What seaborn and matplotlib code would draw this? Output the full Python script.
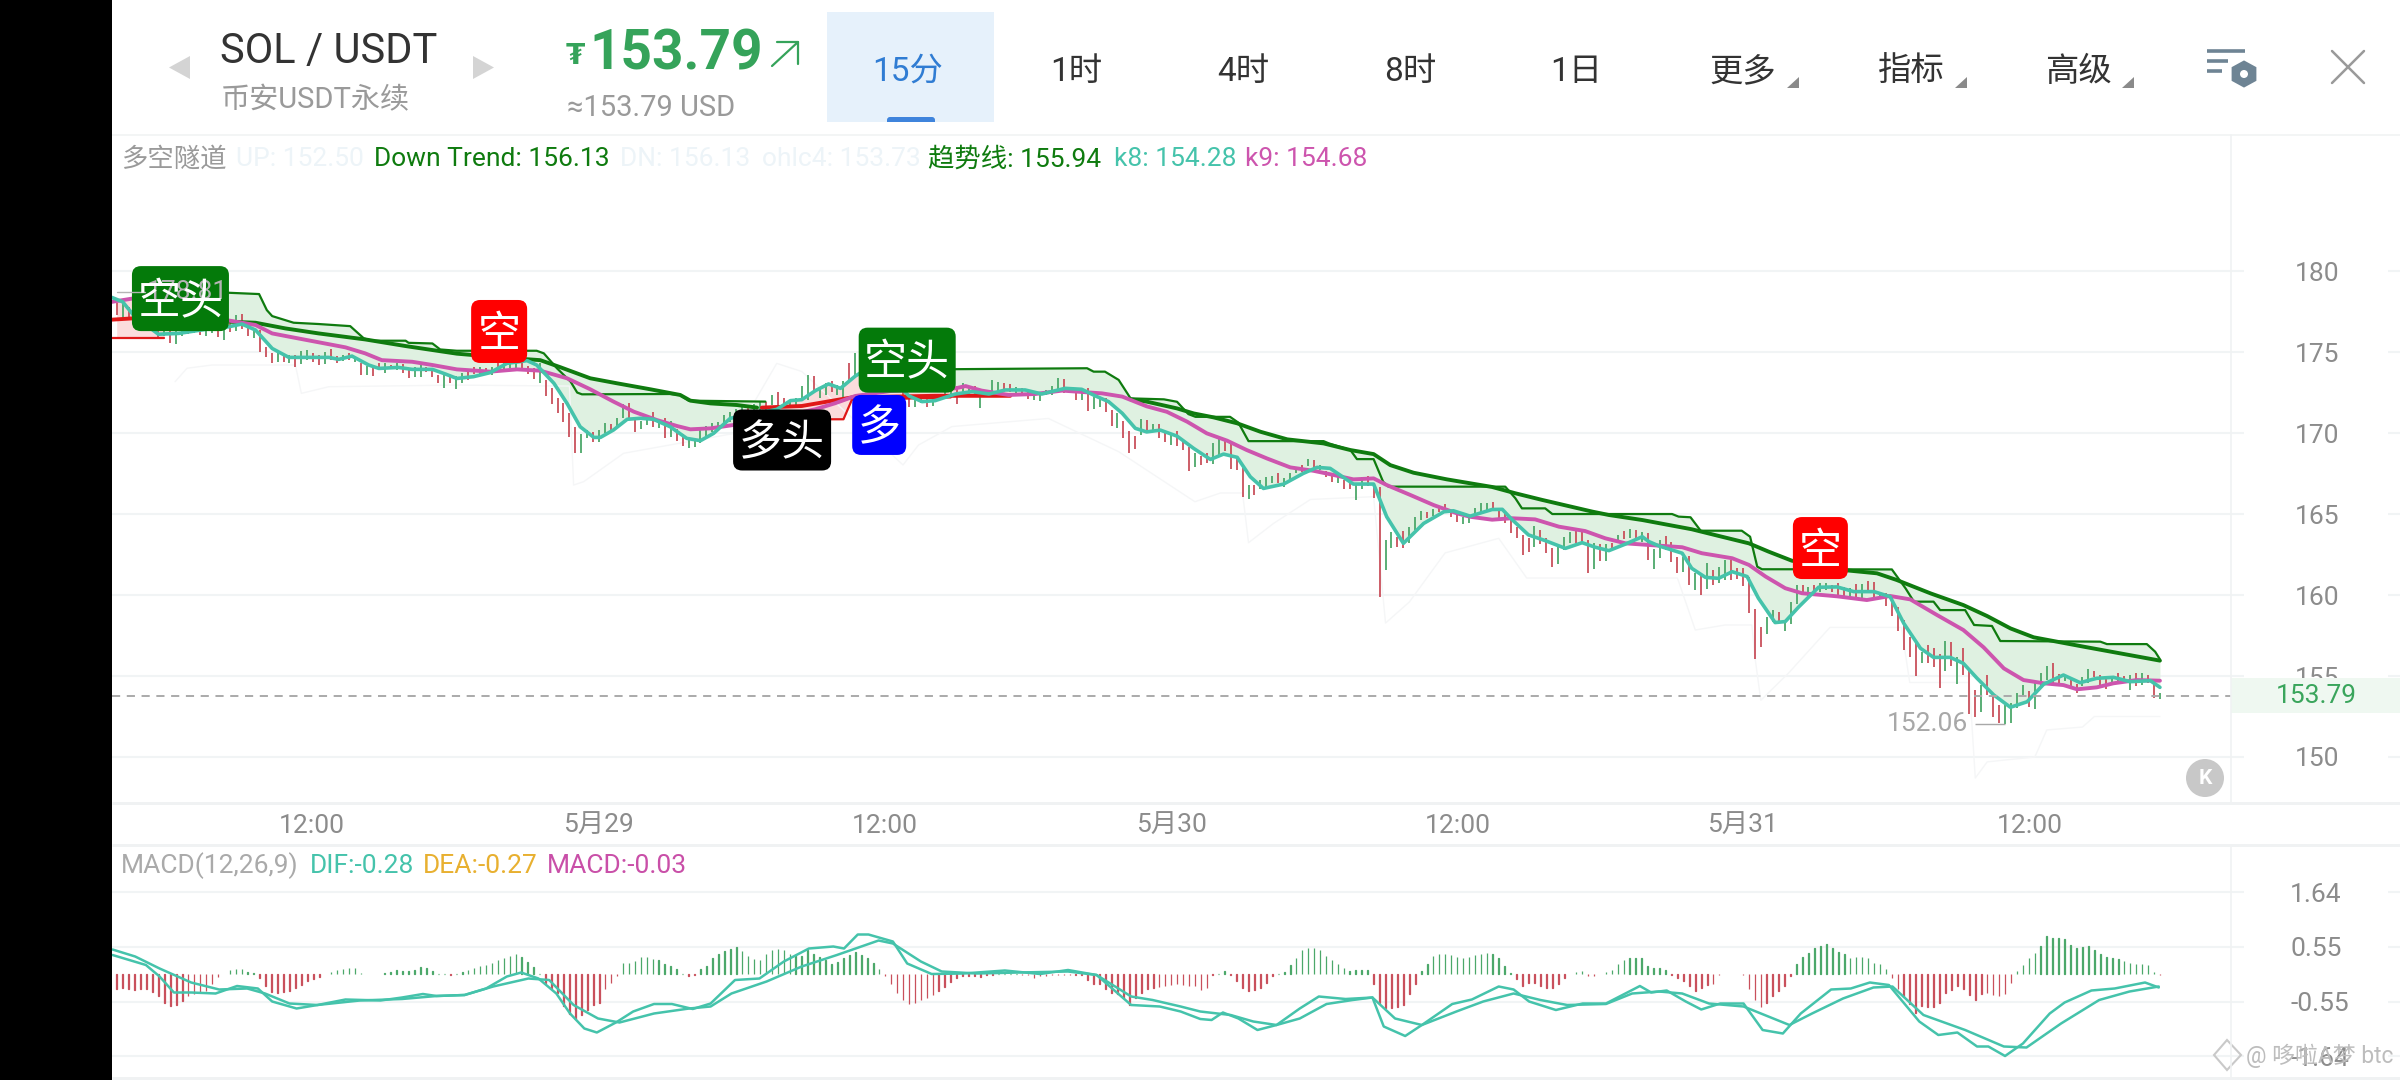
import numpy as np
import pandas as pd
import matplotlib
matplotlib.use("Agg")
import matplotlib.pyplot as plt
from matplotlib.patches import Rectangle, Polygon, Circle, FancyBboxPatch
import seaborn as sns

# candles, one per 15 minutes
highs = [
    178.00,178.00,177.8,177.7,177.6,177.3,177.1,176.8,176.6,176.6,
    176.5,176.5,176.4,176.4,176.6,176.6,176.7,176.8,176.9,176.97,
    177.28,177.34,176.52,176.46,176.36,175.33,174.92,174.92,174.81,174.81,
    174.81,175.08,175.12,174.96,174.81,175.02,175.18,174.75,174.81,174.96,
    174.67,174.34,174.13,174.09,174.30,174.30,174.20,174.30,174.26,173.99,
    174.09,174.20,174.09,173.89,173.58,173.58,173.52,173.5,173.69,173.8,
    174.10,174.10,174.0,174.10,174.3,174.4,174.5,174.5,174.5,174.14,
    174.0,174.34,173.27,172.76,172.14,171.83,171.22,170.39,169.94,170.19,
    170.08,170.19,170.64,170.56,170.91,171.79,171.87,171.01,170.76,171.05,
    171.32,170.80,170.91,170.76,170.23,169.94,169.61,169.57,170.23,170.43,
    170.64,170.70,171.11,171.32,171.5,171.6,171.7,171.8,171.9,171.9,
    172.35,172.55,172.14,172.04,172.14,172.9,173.59,173.52,172.86,173.11,
    173.23,172.97,173.23,174.35,174.96,175.2,175.3,175.0,174.7,174.4,
    174.0,173.6,173.2,172.35,172.35,172.14,172.21,172.14,172.41,172.8,
    172.9,172.9,173.1,172.76,172.9,172.41,172.66,173.28,173.17,173.11,
    173.03,172.86,172.76,172.66,172.56,172.56,172.66,172.91,173.38,173.36,
    172.86,172.62,172.62,172.80,172.25,172.14,172.14,171.42,171.22,170.74,
    170.13,169.84,170.85,170.80,170.53,170.53,170.02,169.88,170.14,169.46,
    169.15,168.78,168.58,168.74,169.36,169.73,169.61,169.32,168.58,167.82,
    166.79,166.79,167.10,167.26,167.36,167.51,167.20,167.55,167.82,168.02,
    168.41,168.33,168.02,167.67,167.51,167.41,167.10,166.93,166.93,167.30,
    167.36,166.89,166.69,163.39,163.91,163.6,163.97,164.18,164.83,165.18,
    165.14,165.29,165.45,165.62,165.14,165.04,164.83,164.83,165.35,165.66,
    165.66,165.77,165.25,165.05,164.63,164.22,163.71,163.50,164.26,164.02,
    163.50,162.88,163.09,163.60,163.87,164.02,163.91,163.40,163.19,163.15,
    163.15,163.23,163.71,163.97,164.06,164.02,163.91,163.85,162.82,163.40,
    163.65,163.30,162.33,162.37,162.41,161.34,161.18,161.96,161.55,161.75,
    162.16,162.16,161.65,161.65,161.14,159.12,158.01,158.67,159.08,158.97,
    158.36,159.59,160.62,160.62,160.48,160.62,160.77,160.72,160.62,160.76,
    160.51,160.41,160.68,160.68,160.88,160.82,160.21,160.10,159.79,159.28,
    158.46,157.43,157.02,156.5,156.91,156.71,156.36,157.16,157.12,156.19,
    156.71,155.37,154.14,154.44,155.06,153.83,153.21,153.21,153.31,153.97,
    154.42,154.09,154.65,155.16,155.64,155.78,155.12,155.06,154.75,154.51,
    154.92,155.41,155.33,155.06,154.79,154.92,155.16,155.02,155.06,155.16,
    155.16,155.06,154.65,153.93,
]
lows = [
    177.28,176.97,177.0,176.9,176.7,176.6,176.4,175.84,176.0,175.53,
    175.49,176.0,176.1,176.2,176.05,175.99,176.2,175.95,175.74,176.25,
    176.32,176.40,175.99,175.84,175.02,174.71,174.30,174.40,174.40,174.30,
    174.09,174.26,174.50,174.40,174.20,174.26,174.50,174.34,174.46,174.50,
    174.40,173.58,173.58,173.52,173.89,173.68,173.93,173.89,173.72,173.37,
    173.48,173.43,173.78,173.43,173.06,172.76,173.06,172.72,173.07,173.3,
    173.64,173.64,173.58,173.58,173.79,173.9,174.0,174.0,173.93,173.64,
    173.31,173.07,172.29,171.79,171.22,170.70,169.78,168.79,168.79,169.67,
    169.43,169.45,169.98,170.08,170.29,170.91,170.85,170.08,170.23,170.50,
    170.39,170.29,169.67,169.73,169.53,169.20,169.06,169.12,169.41,169.73,
    170.08,170.29,170.50,170.70,170.9,171.0,171.1,171.2,171.3,171.4,
    171.73,171.73,171.52,171.52,171.52,172.1,172.04,172.45,172.14,172.35,
    172.56,172.35,172.04,173.17,173.59,174.0,174.2,173.9,173.6,173.3,
    173.0,172.6,172.3,171.59,171.63,171.84,171.63,171.67,172.04,172.1,
    172.2,171.79,172.4,172.29,172.3,171.55,172.29,172.35,172.45,172.56,
    172.56,172.49,172.35,172.08,172.04,172.0,172.35,172.35,172.45,172.45,
    172.56,172.04,172.04,171.38,171.47,171.59,171.32,170.44,170.29,169.68,
    168.79,169.0,169.88,170.18,170.18,169.67,169.46,169.26,169.20,168.95,
    167.65,167.88,168.02,168.13,168.06,168.64,168.91,167.76,167.71,166.03,
    165.90,166.17,166.52,166.58,166.93,166.89,166.64,167.10,167.51,167.61,
    167.96,167.82,167.71,167.30,166.99,166.89,166.52,166.52,165.86,166.52,
    166.73,165.97,159.9,161.54,162.88,162.94,162.88,163.23,164.0,164.63,
    164.73,164.88,165.14,165.14,164.83,164.52,164.38,164.46,164.94,165.14,
    165.25,165.25,164.63,164.43,163.85,163.50,162.47,162.68,162.99,163.15,
    162.58,161.75,161.92,162.78,163.23,163.19,163.23,161.38,161.61,162.12,
    162.12,162.78,163.19,163.44,163.50,163.50,163.30,162.16,161.59,162.27,
    162.78,162.06,161.34,161.44,160.62,160.31,160.0,160.35,160.62,160.77,
    160.93,160.93,160.97,160.56,158.91,156.05,156.81,157.60,158.36,158.25,
    157.78,158.21,159.45,160.0,159.94,160.0,160.21,160.31,160.21,159.79,
    159.90,159.79,159.79,159.79,160.31,159.90,159.86,159.32,158.70,157.80,
    156.60,156.15,155.0,155.78,155.78,155.53,154.24,155.33,155.62,154.50,
    155.06,152.65,152.49,152.80,153.83,152.45,152.08,152.06,152.08,153.0,
    153.76,153.11,152.94,154.24,154.75,154.51,154.59,154.71,154.24,153.97,
    154.38,154.59,154.96,154.34,154.18,154.44,154.55,154.59,154.14,154.38,
    154.44,154.55,153.62,153.56,
]
candle_side = (
    "rgrgrrgrgr" "ggrgrggrgr" "grrgrrrgrg" "rggrrgrrgr" "grgrrgrgrr"
    "ggrrrgrggr" "rgrgrgggrr" "rgrrrrrrgg" "rggrggrrgg" "rgrgrrgggg"
    "ggggggrggr" "grrggggrgg" "rggrgggrrr" "rrrrggrgrg" "grggrgrggr"
    "rgrrgggggr" "grgrggrrgr" "rrgrgrrgrr" "rgrrggrrrr" "grgggrgggr"
    "grgrrgrrgg" "rrrggrrggg" "rgrrrrgggg" "grrrrrrrgr" "rrgggrrrgr"
    "grgrgrgrgg" "rrrgrgrgrg" "grrrrrrggr" "gggrgrggrr" "rgrgrrgrrr"
    "rrrgrrrgrg" "rrrgrrrggg" "grgggrrgrr" "ggrrrgrrgr" "grrg"
)

k8_t = [-0.8,1,3,7,10.4,14.9,18.8,21,23.3,26.1,28.9,32.8,35.6,37.3,39.5,42.3,44,47.3,49.6,53,55.2,57.1,
        59.9,62.7,65.5,68.9,70.5,73.4,75.6,77.8,80.1,81.2,83.4,85.7,87.9,90.1,92.9,95.7,98,100.2,103,110.8,113.1,115,
        117.3,119.5,121.5,124,127,130,133,135.2,137.4,140.8,143.6,146.4,149.2,152.5,155.3,159.2,162,164.3,166.5,168.8,171,172.9,
        175.2,178,180.8,183.6,185.8,188.1,190.3,192.5,195.9,199.2,201.5,203.7,207.6,211,213.2,216,219.4,222.8,224.4,227.2,230.9,
        232.6,234.2,237,239.8,243.2,246,248.2,250.5,253.3,256.1,257.2,258.9,262.8,264.4,266.7,268.9,271.2,273.7,275.6,278.4,280.1,282.4,285.7,288.8,
        291.6,295,297.7,300,302.8,305,307.8,310,312.3,315.1,317.9,320.7,323.5,326.8,329.6,332.4,335.2,338,341.4,343]
k8_v = [178.37,178.1,177.2,176.1,176.15,176.4,176.56,176.73,176.36,175.22,174.67,174.67,174.67,174.55,174.75,174.2,173.99,174.05,173.93,173.93,173.64,173.37,
        173.48,173.73,174.3,174.47,174.2,173.07,171.83,170.39,169.73,169.73,170.19,170.85,170.91,170.85,170.39,169.67,169.53,169.98,170.91,171.46,172.0,172.06,
        172.62,173.03,172.76,173.52,174.2,173.4,172.29,171.94,172.0,172.41,172.56,172.41,172.66,172.66,172.41,172.76,172.7,172.29,171.94,171.22,170.29,170.07,
        170.18,169.81,169.05,168.37,168.7,168.5,167.3,166.58,166.85,167.51,167.88,167.82,166.85,166.85,164.83,163.19,164.42,165.14,165.2,164.87,165.28,
        165.29,164.67,163.71,163.36,162.88,163.23,162.95,162.74,163.15,163.6,163.3,163.03,162.58,161.65,161.09,161.03,161.44,161.14,159.8,158.3,158.36,159.28,160.48,160.5,
        160.21,160.21,159.9,158.25,156.71,156.15,156.15,155.78,154.86,153.83,153.07,153.41,154.5,155.06,154.59,154.86,154.92,154.65,154.71,154.3]

k9_t = [-0.8,2.6,8,14,19.1,23.3,26.1,30.5,38.4,41.7,44.5,49.6,53,57.1,62.7,67.2,71.1,75.6,79.5,83.4,86.8,90.7,94.1,96.3,99.7,103.6,110,
        117.3,120.6,124,130,136,140.8,142.5,145.2,149.7,154.2,158.7,165.4,168.8,172.9,176.3,179.7,183,186.4,189.7,193.1,197,200.9,204.3,207.6,211,213.2,217.2,221.1,225,227.2,230.9,
        234.2,238.1,242.1,246.5,249.9,253.3,257.2,262.8,266.1,271.2,274,276.8,280.1,282.9,288.8,293.8,297.7,301.1,305.6,310,313.4,316.8,320.1,323.5,326.8,329.1,332.4,335.2,339.1,343]
k9_v = [178.1,178.3,177.8,177.2,176.93,176.67,176.15,175.84,175.29,174.92,174.50,174.40,174.2,173.93,173.79,173.93,173.85,173.38,172.70,171.94,171.32,170.80,170.43,170.23,170.29,170.50,170.9,
        171.47,171.84,172.29,172.6,172.7,172.76,172.9,172.62,172.35,172.41,172.62,172.45,172.25,171.65,171.31,170.70,169.98,169.53,168.95,168.43,167.88,167.67,167.41,167.14,167.2,166.79,166.17,165.55,165.04,164.83,164.65,
        164.74,164.67,164.22,163.95,163.5,163.19,163.09,162.95,162.58,162.27,161.86,161.14,160.42,160.11,159.92,159.69,159.94,159.73,158.76,157.84,156.77,155.47,154.75,154.55,154.44,154.18,154.30,154.55,154.75,154.71]

# super trend, green while falling, red while rising
trend_down1_t = [19.1,23.3,28.3,33.9,41.7,48.5,57.1,64.4,71.1,74.5,79.5,84,89.6,94.6,96.3,99.7,104.1,107.5]
trend_down1_v = [176.87,176.81,176.46,176.15,175.78,175.37,174.9,174.67,174.5,174.06,173.38,173.07,172.7,172.35,172.0,171.83,171.73,171.57]
trend_up1_t = [-0.8,8]
trend_up1_v = [177.0,177.2]
trend_up2_t = [108.3,115,123.4,137.4,150]
trend_up2_v = [171.57,171.67,172.2,172.3,172.3]
trend_down2_t = [170.2,172.9,178,180.8,184.1,188.1,192,196.5,202.6,207.1,211,213.8,217.7,223.3,230.9,234.8,239.3,247.7,250.5,256.1,264.4,268.9,274,277.3,281.2,284.5,288.8,295.5,298.8,304.5,310,314,317.9,321.8,325.7,330.2,336.3,343]
trend_down2_v = [172.08,171.94,171.52,171.21,170.97,170.6,170.08,169.61,169.36,168.95,168.7,168.02,167.55,167.14,166.67,166.28,165.87,165.15,164.94,164.63,164.06,163.65,163.19,162.68,162.12,161.9,161.58,161.34,160.93,160.1,159.38,158.70,157.94,157.39,157.12,156.81,156.4,155.95]

# tunnel edges
step1_t = [8,18.8,23.9,25.2,26.1,29.7,33.9,39.2,41.5,42.9,48.5,49,53,54.3,57.1,64,70.5,71.7,73.9,76.2,77.3,78.1,92.9,94.6,96,108.9]
step1_v = [178.66,178.66,178.58,177.59,177.22,176.81,176.73,176.6,175.84,175.7,175.7,175.57,175.53,175.16,175.08,175.08,175.08,174.92,174.0,173.17,172.5,172.39,172.41,172.35,172.0,171.94]
step2_t = [136,162.9,164,165.9,168.2,170.2,175.8,178,179.9,181.1,186.9,188.3,190,202.6,203.5,207.1,208.2,211,212.6,213.5,226.7,233.1,234.8,235.9,239.8,241,261.1,262.2,264.2,265.9,272.8,274.2,275.4,276.2,281.5,298,300.3,301.7,305,306.1,310.3,311.8,314.8,316.2,333,334.1,340.8,342.2,343]
step2_v = [173.93,174,173.79,173.79,173.28,172.14,172.08,171.93,171.17,171.0,171,170.64,169.5,169.5,169.36,168.95,168.39,168.39,166.99,166.69,166.69,166.69,165.97,165.35,165.35,165,165,164.84,164.8,163.97,163.97,163.6,161.75,161.59,161.59,161.58,160.41,159.59,159.59,159.07,159.07,158.15,158.09,157.16,157.12,156.97,156.97,156.5,156.03]
up_step1_t = [-0.8,7.9]
up_step1_v = [175.88,175.88]
up_step2_t = [108.9,122,123.4,140]
up_step2_v = [170.85,170.85,172.04,172.2]
lower_t = [9.8,11.8,16,30,31,35.6,57,76,76.7,78.4,85.1,104,110.8,115,132,134.6,140.2,156.4,168.2,181,185.3,189,190,194.2,200.4,211,213,217,223,232,236.7,262,265,270,274.5,275,276,280.7,287.6,299.6,301,311,312,314,322,324,330,332,343]
lower_v = [173.17,174,174.2,174.2,172.45,172.86,172.96,172.9,166.79,167,168.75,170,174.3,173.8,168.03,169.26,170.4,170.9,168.85,165.76,166.3,166.3,163.23,164.42,165.9,166.07,158.27,159.57,162.6,163.5,161.05,161.05,157.84,158.15,158.15,156.2,153.5,155.2,158,158,154.6,154.6,148.7,149.7,150,151.67,151.85,152.5,152.5]

signal_t = [10.7,64.2,111.7,132.7,128,286]
signal_v = [178.3,176.27,169.57,174.5,170.5,162.9]
signal_text = ["空头","空","多头","空头","多","空"]

macd_hist = [
    -.30,-.28,-.29,-.31,-.30,-.30,-.35,-.43,-.57,-.63, -.61,-.53,-.43,-.39,-.35,-.33,-.20,-.05,.01,.08,
    .11,.10,.04,.02,-.08,-.23,-.35,-.37,-.35,-.33, -.27,-.21,-.13,-.10,-.05,0,.05,.08,.11,.13,
    .13,.02,0,0,.01,.03,.05,.08,.07,.07, .09,.15,.13,.07,.01,0,-.01,.01,.04,.08,
    .12,.16,.19,.23,.28,.33,.37,.41,.35,.25, .15,.01,-.17,-.27,-.37,-.63,-.80,-.90,-.81,-.72,
    -.61,-.57,-.30,-.17,-.03,.23,.23,.27,.35,.35, .30,.28,.20,.17,.10,.01,-.03,-.01,.10,.17,
    .32,.40,.47,.51,.55,.47,.37,.30,.28,.40, .48,.51,.48,.40,.39,.37,.48,.40,.35,.28,
    .21,.25,.33,.39,.45,.39,.32,.23,.10,-.03, -.19,-.37,-.52,-.60,-.57,-.52,-.47,-.41,-.33,-.25,
    -.15,-.07,-.03,-.03,-.04,-.05,-.02,-.01,0,0, 0,0,-.01,-.02,-.07,-.03,-.03,-.02,-.01,-.01,
    -.01,-.01,-.01,-.12,-.19,-.20,-.30,-.37,-.40,-.47, -.61,-.48,-.37,-.30,-.27,-.25,-.23,-.22,-.20,-.21,
    -.23,-.23,-.31,-.28,-.01,0,.07,-.01,-.13,-.28, -.33,-.32,-.27,-.17,-.04,.01,.04,.19,.33,.48,
    .52,.53,.48,.37,.29,.21,.13,.07,.09,.09, .08,-.20,-.57,-.67,-.68,-.65,-.61,-.40,-.20,.07,
    .20,.37,.40,.41,.39,.35,.32,.35,.39,.41, .43,.41,.32,.17,.03,-.10,-.23,-.17,-.18,-.23,
    -.28,-.27,-.20,-.07,.01,.04,.07,-.03,-.03,.01, .04,.09,.21,.28,.32,.33,.33,.17,.12,.12,
    .08,-.02,-.08,-.13,-.23,-.33,-.28,-.21,-.19,-.02, 0,0,0,-.01,-.30,-.52,-.65,-.57,-.43,-.33,
    -.23,-.03,.20,.35,.43,.52,.57,.60,.53,.45, .40,.33,.35,.35,.32,.23,.20,.10,-.08,-.30,
    -.45,-.59,-.77,-.63,-.65,-.65,-.57,-.37,-.31,-.23, -.30,-.41,-.52,-.40,-.38,-.41,-.43,-.40,-.17,.07,
    .19,.32,.43,.57,.77,.73,.72,.70,.58,.53, .55,.57,.48,.40,.35,.32,.30,.27,.23,.20,
    .20,.19,.05,-.02,
]
dif_t = [-0.7,4.9,7.2,9.6,12.5,16.6,20.2,23.7,26.1,30.2,33.7,38.4,44.3,47.9,51.4,53.7,58.4,62,65.5,67.9,70.8,73.8,76.1,78.5,80.6,83.8,86.7,90.2,93.2,96.7,99.7,103.8,107.9,112,116.2,120.3,122.1,124.4,126.2,130.3,132.7,136.8,142.1,149.1,155,159.7,164.5,167.4,170.3,175.1,178.6,181.9,
         183.8,185.7,188.3,191.5,194.7,198.6,201.8,206.3,210.8,212.7,216.3,219.1,224.2,227.5,232,234.5,237.1,241.6,246.1,250,255.7,257.6,260.2,263.4,266,269.2,273.1,276.3,279.7,282.7,287.8,291.1,294.3,297.5,302.6,305.8,309,312.3,314.2,317,320,324.5,327,331.5,335.4,340.5,342.8]
dif_v = [.38,.18,-.05,-.37,-.37,-.39,-.24,-.29,-.55,-.69,-.62,-.51,-.53,-.47,-.40,-.44,-.42,-.29,-.05,.03,-.09,-.39,-.79,-1.09,-1.17,-.97,-.75,-.60,-.60,-.70,-.59,-.12,-.09,.25,.51,.55,.51,.79,.79,.65,.21,0,.01,.07,0,.08,-.02,-.32,-.62,-.65,-.75,-.90,
         -.92,-.77,-.89,-1.12,-1.02,-.69,-.45,-.50,-.47,-1.05,-1.24,-1.02,-.60,-.51,-.25,-.31,-.55,-.72,-.59,-.59,-.24,-.37,-.33,-.55,-.71,-.59,-.59,-1.12,-1.19,-.79,-.31,-.29,-.17,-.22,-.95,-1.22,-1.17,-1.45,-1.45,-1.64,-1.39,-.79,-.57,-.33,-.29,-.17,-.27]
dea_t = [-0.7,3.1,7.2,12.5,17.2,21.9,24.9,29,33.7,40.8,47.9,53.7,58.4,63.2,69.1,72.6,76.7,80.8,84.4,90.2,96.1,99.7,103.2,109.1,115,120.9,127.9,130.3,135,138.5,144.4,151.5,159.7,164.5,170.3,173.9,178.6,181.9,
         187,190.8,194.7,198.6,203.1,207.5,210.8,214.6,219.1,224.9,229.4,234.5,239,243.5,250,254.4,258.9,262.8,267.3,273.1,280.8,284.6,289.8,294.9,298.1,303.3,310.3,316.8,320.6,326.4,332.8,337.9,342.8]
dea_v = [.49,.35,.11,-.17,-.31,-.29,-.39,-.59,-.62,-.53,-.50,-.44,-.42,-.25,-.09,-.12,-.62,-.89,-.97,-.79,-.69,-.65,-.39,-.15,.15,.38,.67,.61,.25,.05,.01,.03,.05,-.02,-.45,-.52,-.65,-.75,
         -.82,-.95,-1.02,-.89,-.60,-.52,-.47,-.89,-1.02,-.75,-.55,-.39,-.52,-.62,-.60,-.39,-.35,-.39,-.59,-.65,-1.02,-.79,-.49,-.27,-.25,-.82,-1.12,-1.45,-1.47,-.99,-.52,-.35,-.25]

price_ticks = [150,155,160,165,170,175,180]
macd_ticks = [1.64,0.55,-0.55,-1.64]
macd_tick_labels = ["1.64","0.55","-0.55","-1.64"]
time_t = [32.8,80.9,129,177,225.1,273,321.2]
time_labels = ["12:00","5月29","12:00","5月30","12:00","5月31","12:00"]
last_price = 153.79
low_price = 152.06
low_t = 317
high_price = 178.81

W, H = 2400, 1080
sns.set_theme(style="white")
plt.rcParams["font.family"] = ["Roboto", "Noto Sans CJK SC", "DejaVu Sans"]

TEAL = "#45c3ab"
MAGENTA = "#cd55ae"
DGREEN = "#0f7b0f"
RED = "#e01818"
CANDLE_R = "#c9505c"
CANDLE_G = "#4ca86a"
GRID = "#f1f4f5"
AXIS_TXT = "#8c8c8c"

fig = plt.figure(figsize=(24, 10.8), dpi=100, facecolor="white")


def px_axes(x0, y0, x1, y1):
    return fig.add_axes([x0 / W, 1 - y1 / H, (x1 - x0) / W, (y1 - y0) / H])


def line(ax, t, v, color, lw, z=3):
    df = pd.DataFrame({"t": t, "v": v})
    sns.lineplot(data=df, x="t", y="v", color=color, linewidth=lw, ax=ax,
                 estimator=None, errorbar=None, legend=False, zorder=z)


def clean(ax):
    ax.set_xlim(-0.79, 383.3)
    ax.set_xlabel("")
    ax.set_ylabel("")
    for s in ax.spines.values():
        s.set_visible(False)
    ax.patch.set_visible(False)


# price panel
ax = px_axes(112, 135, 2400, 803)
t = np.arange(len(highs))
grid_t = np.arange(0, 343.01, 0.25)

# tunnel fills
k8_i = np.interp(grid_t, k8_t, k8_v)
k9_i = np.interp(grid_t, k9_t, k9_v)
upper = np.maximum(np.interp(grid_t, step1_t, step1_v), np.interp(grid_t, trend_down1_t, trend_down1_v))
upper2 = np.maximum(np.interp(grid_t, step2_t, step2_v), np.interp(grid_t, trend_down2_t, trend_down2_v))
low_band = np.minimum(k8_i, k9_i)
top_band = np.maximum(k8_i, k9_i)
ax.fill_between(grid_t, upper, low_band, where=(grid_t >= 8) & (grid_t <= 108.9), color="#dff1e1", lw=0, zorder=1)
ax.fill_between(grid_t, upper2, low_band, where=grid_t >= 136, color="#dff1e1", lw=0, zorder=1)
ax.fill_between(grid_t, up_step1_v[0], top_band, where=grid_t <= 8, color="#fbdcdc", lw=0, zorder=1)
ax.fill_between(grid_t, np.interp(grid_t, up_step2_t, up_step2_v), top_band,
                where=(grid_t >= 108.9) & (grid_t <= 150), color="#fbdcdc", lw=0, zorder=1)

# gridlines stop short of the tick labels
ax.hlines(price_ticks, -0.79, 357.1, color=GRID, lw=1.5, zorder=0)
ax.hlines(price_ticks, 381.3, 383.3, color=GRID, lw=1.5, zorder=0)

line(ax, lower_t, lower_v, "#f5f6f7", 1.0, 1.5)
side = np.array(list(candle_side))
ax.vlines(t[side == "r"], np.array(lows)[side == "r"], np.array(highs)[side == "r"], color=CANDLE_R, lw=1.3, zorder=2)
ax.vlines(t[side == "g"], np.array(lows)[side == "g"], np.array(highs)[side == "g"], color=CANDLE_G, lw=1.3, zorder=2)

line(ax, step1_t, step1_v, DGREEN, 1.6)
line(ax, step2_t, step2_v, DGREEN, 1.6)
line(ax, up_step1_t, up_step1_v, RED, 1.6)
line(ax, up_step2_t, up_step2_v, RED, 1.6)
line(ax, trend_down1_t, trend_down1_v, DGREEN, 2.8)
line(ax, trend_down2_t, trend_down2_v, DGREEN, 2.8)
line(ax, trend_up1_t, trend_up1_v, RED, 2.8)
line(ax, trend_up2_t, trend_up2_v, RED, 2.8)
line(ax, k9_t, k9_v, MAGENTA, 2.8, 4)
line(ax, k8_t, k8_v, TEAL, 2.6, 5)

ax.hlines(last_price, -0.79, 355, color="#aaaaaa", lw=1.4, linestyles=(0, (4.2, 3.4)), zorder=6)
ax.text(low_t - 6.2, low_price, f"{low_price:.2f}", ha="right", va="center", color="#a8a8a8", fontsize=19)
ax.hlines(low_price, low_t - 5, low_t, color="#a8a8a8", lw=1)

ax.set_ylim(147.16, 188.4)
ax.set_yticks(price_ticks)
ax.set_xticks(time_t, time_labels)
ax.yaxis.tick_right()
ax.tick_params(axis="y", length=0, pad=-75.5, labelsize=19, labelcolor=AXIS_TXT)
ax.tick_params(axis="x", length=0, pad=8, labelsize=19, labelcolor=AXIS_TXT)
clean(ax)

# MACD panel
ax2 = px_axes(112, 845, 2400, 1078)
hist_df = pd.DataFrame({"t": t, "macd": macd_hist})
for sign_mask, col in [(hist_df["macd"] >= 0, CANDLE_G), (hist_df["macd"] < 0, CANDLE_R)]:
    sns.barplot(data=hist_df[sign_mask], x="t", y="macd", color=col, edgecolor=col, linewidth=0.9,
                native_scale=True, width=0.1, ax=ax2, zorder=2)
ax2.hlines(macd_ticks, -0.79, 357.1, color=GRID, lw=1.5, zorder=0)
ax2.hlines(macd_ticks, 381.3, 383.3, color=GRID, lw=1.5, zorder=0)
line(ax2, dea_t, dea_v, TEAL, 1.8)
line(ax2, dif_t, dif_v, TEAL, 1.8)
ax2.set_ylim(-2.08, 2.58)
ax2.set_yticks(macd_ticks, macd_tick_labels)
ax2.set_xticks([])
ax2.yaxis.tick_right()
ax2.tick_params(axis="y", length=0, pad=-79, labelsize=19, labelcolor=AXIS_TXT)
clean(ax2)

# app chrome, in pixel coordinates
ui = fig.add_axes([0, 0, 1, 1], zorder=20)
ui.set_xlim(0, W)
ui.set_ylim(H, 0)
ui.axis("off")

ui.add_patch(Rectangle((0, 0), 112, H, fc="black", ec="none"))
for y, w in [(135, 1.5), (803, 3), (845, 3), (1078, 3)]:
    ui.plot([112, W], [y, y], color="#f0f2f3", lw=w * 0.72, solid_capstyle="butt")
ui.plot([2231, 2231], [135, 803], color="#f0f2f3", lw=1.2)
ui.plot([2231, 2231], [845, 1078], color="#f0f2f3", lw=1.2)

# signal tags sit on the price axis, sized in pixels
tag_color = ["#047a0a", "#ff0000", "#000000", "#047a0a", "#0000ff", "#ff0000"]
tag_w = [97, 56, 98, 97, 54, 55]
tag_h = [65, 63, 61, 65, 60, 62]
for i, (st, sv, txt) in enumerate(zip(signal_t, signal_v, signal_text)):
    xd, yd = ax.transData.transform((st, sv))
    cx, cy = xd, H - yd
    ui.add_patch(FancyBboxPatch((cx - tag_w[i] / 2, cy - tag_h[i] / 2), tag_w[i], tag_h[i],
                                boxstyle="round,pad=0,rounding_size=9", fc=tag_color[i], ec="none"))
    if i == 0:
        # the day-high label shows through the first tag
        ui.plot([117, 145], [292, 292], color="#b5b5b5", lw=1)
        ui.text(147, 292, f"{high_price:.2f}", ha="left", va="center", color="#b5b5b5", fontsize=19)
    ui.text(cx, cy + 4, txt, ha="center", va="center", color="white", fontsize=31)

ui.add_patch(Rectangle((2231, 678), W - 2231, 35, fc="#eff8f1", ec="none"))
ui.text(2316, 696, f"{last_price:.2f}", ha="center", va="center", color="#3aa55c", fontsize=19)

ui.add_patch(Circle((2205, 778), 19, fc="#c8c8c8", ec="none"))
ui.text(2205, 778, "K", ha="center", va="center", color="white", fontsize=15, fontweight="bold")

# header
ui.add_patch(Polygon([(190, 56), (190, 79), (169, 67.5)], fc="#d4d4d4", ec="none"))
ui.add_patch(Polygon([(473, 56), (473, 79), (494, 67.5)], fc="#d4d4d4", ec="none"))
ui.text(329, 51, "SOL / USDT", ha="center", va="center", color="#333333", fontsize=30)
ui.text(221, 100, "币安USDT永续", ha="left", va="center", color="#9a9a9a", fontsize=21)
ui.text(575, 56, "₮", ha="center", va="center", color="#35a35a", fontsize=20, fontweight="bold",
        family=["DejaVu Sans"])
ui.text(589, 54, "153.79", ha="left", va="center", color="#35a35a", fontsize=39.5, fontweight="bold")
ui.plot([772, 798, 798], [66, 42, 64], color="#35a35a", lw=1.6)
ui.plot([777, 798], [42, 42], color="#35a35a", lw=1.6)
ui.text(567, 108, "≈153.79 USD", ha="left", va="center", color="#9a9a9a", fontsize=21)

ui.add_patch(Rectangle((827, 12), 167, 110, fc="#e6f1fb", ec="none"))
ui.add_patch(FancyBboxPatch((887, 117), 48, 8, boxstyle="round,pad=0,rounding_size=3", fc="#3f84dc", ec="none"))
ui.add_patch(Rectangle((880, 122), 62, 4, fc="white", ec="none"))
ui.text(908, 72, "15分", ha="center", va="center", color="#2f7cd3", fontsize=24)

tab_x = [1076, 1243, 1410, 1576, 1743, 1911, 2078]
tab_text = ["1时", "4时", "8时", "1日", "更多", "指标", "高级"]
for x, s in zip(tab_x, tab_text):
    ui.text(x, 72, s, ha="center", va="center", color="#333333", fontsize=24)
for x in tab_x[4:]:
    ui.add_patch(Polygon([(x + 44, 88), (x + 56, 88), (x + 56, 77)], fc="#8a8a8a", ec="none"))

# toolbar icon and close cross
for y, x1 in [(51, 2245), (61, 2228), (71, 2222)]:
    ui.plot([2207, x1], [y, y], color="#6e8494", lw=2.6, solid_capstyle="butt")
hx, hy = 2244, 74
ui.add_patch(Polygon([(hx - 11, hy - 6), (hx, hy - 12), (hx + 11, hy - 6), (hx + 11, hy + 6), (hx, hy + 12), (hx - 11, hy + 6)],
                     fc="#6e8494", ec="#6e8494", lw=2.0))
ui.add_patch(Circle((hx, hy), 4, fc="white", ec="none"))
ui.plot([2332, 2364], [51, 83], color="#9a9a9a", lw=1.8)
ui.plot([2332, 2364], [83, 51], color="#9a9a9a", lw=1.8)

# indicator legends
FAINT = "#edf4f8"
legend_rows = [
    (121, 159, "多空隧道", "#9a9a9a"), (236, 159, "UP: 152.50", FAINT), (374, 159, "Down Trend: 156.13", DGREEN),
    (620, 159, "DN: 156.13", FAINT), (762, 159, "ohlc4: 153.73", FAINT), (928, 159, "趋势线: 155.94", DGREEN),
    (1114, 159, "k8: 154.28", TEAL), (1245, 159, "k9: 154.68", MAGENTA),
    (121, 866, "MACD(12,26,9)", "#aaaaaa"), (310, 866, "DIF:-0.28", TEAL),
    (423, 866, "DEA:-0.27", "#e8b030"), (547, 866, "MACD:-0.03", "#c94fa8"),
]
for x, y, s, c in legend_rows:
    ui.text(x, y, s, ha="left", va="center", color=c, fontsize=19)

# watermark
ui.add_patch(Polygon([(2214, 1055), (2227, 1040), (2241, 1055), (2227, 1070)], fc="none", ec="#c9c9c9", lw=1.5))
ui.text(2246, 1056, "@ 哆啦A梦 btc", ha="left", va="center", color="#bdbdbd", fontsize=16.5)

fig.savefig("out.png", dpi=100)
